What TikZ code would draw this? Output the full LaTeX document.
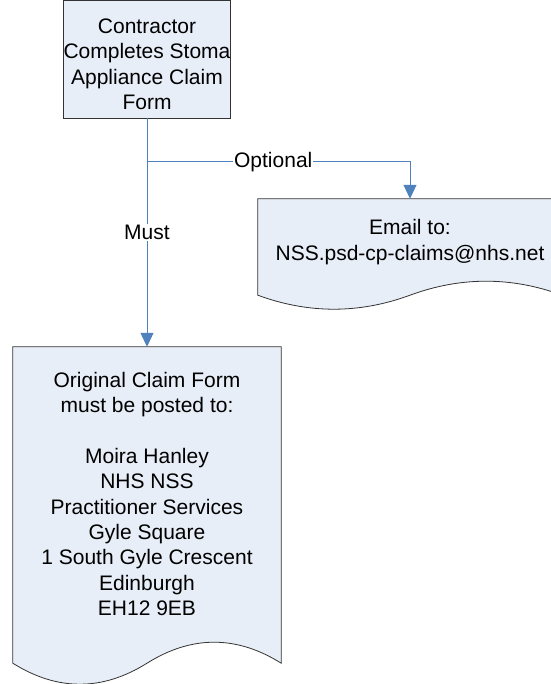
\documentclass[tikz,border=0pt]{standalone}
\usepackage{fontspec}
\setmainfont{Liberation Sans}
\usepackage{tikz}
\usetikzlibrary{calc,arrows.meta,positioning,backgrounds}
\definecolor{boxfill}{RGB}{232,238,247}
\definecolor{flowblue}{RGB}{79,129,189}
\tikzset{
    process/.style={
    rectangle,draw=black!80,fill=boxfill,line width=0.8pt,align=center,inner sep=0pt
    },
    document/.style={
    rectangle,align=center,inner sep=0pt
    },
    docline/.style={
    draw=black!80,fill=boxfill,line width=0.8pt
    },
    flow/.style={
    draw=flowblue,line width=1pt,-{Triangle[length=14pt,width=13pt]}
    },
    flowlabel/.style={
    fill=white,inner sep=1pt,text=black
    },
}
% outline of a document shape: #1 node, #2 extra depth below node, #3 wave height
\newcommand{\docoutline}[3]{%
  \path[docline] let \p1=(#1.north west), \p2=(#1.south east), \n1={(\x2-\x1)/2} in
    (\x1,\y1) -- (\x2,\y1) -- (\x2,\y2-#2pt)
    .. controls (\x2-\n1/3,\y2-#2pt+4*#3pt/3) and (\x2-2*\n1/3,\y2-#2pt+4*#3pt/3) .. (\x1+\n1,\y2-#2pt)
    .. controls (\x1+2*\n1/3,\y2-#2pt-4*#3pt/3) and (\x1+\n1/3,\y2-#2pt-4*#3pt/3) .. (\x1,\y2-#2pt)
    -- cycle;
}

\begin{document}
\begin{tikzpicture}[x=1pt, y=-1pt, font=\fontsize{21}{25.3}\selectfont]
   \useasboundingbox (0,0) rectangle (550,684);
   \node[process, minimum width=138pt, minimum height=118pt] (top) at (147,59)
     {\rule{0pt}{25pt}Contractor\\Completes Stoma\\Appliance Claim\\Form};
   \node[document, minimum width=304pt, minimum height=86pt] (email) at (410,242)
     {Email to:\\NSS.psd-cp-claims@nhs.net};
   \node[document, minimum width=268pt, minimum height=294pt] (post) at (147,494)
     {Original Claim Form\\must be posted to:\\[25.3pt]Moira Hanley\\NHS NSS\\Practitioner Services\\Gyle Square\\1 South Gyle Crescent\\Edinburgh\\EH12 9EB};
   \begin{scope}[on background layer]
     \docoutline{email}{10}{14}
     \docoutline{post}{22}{21}
   \end{scope}

   \coordinate (split) at (147,162);
   \draw[flow] (top) -- node[flowlabel] {Must} (post);
   \draw[flow] (split) -| node[flowlabel, pos=0.24] {Optional} (email);
\end{tikzpicture}
\end{document}
